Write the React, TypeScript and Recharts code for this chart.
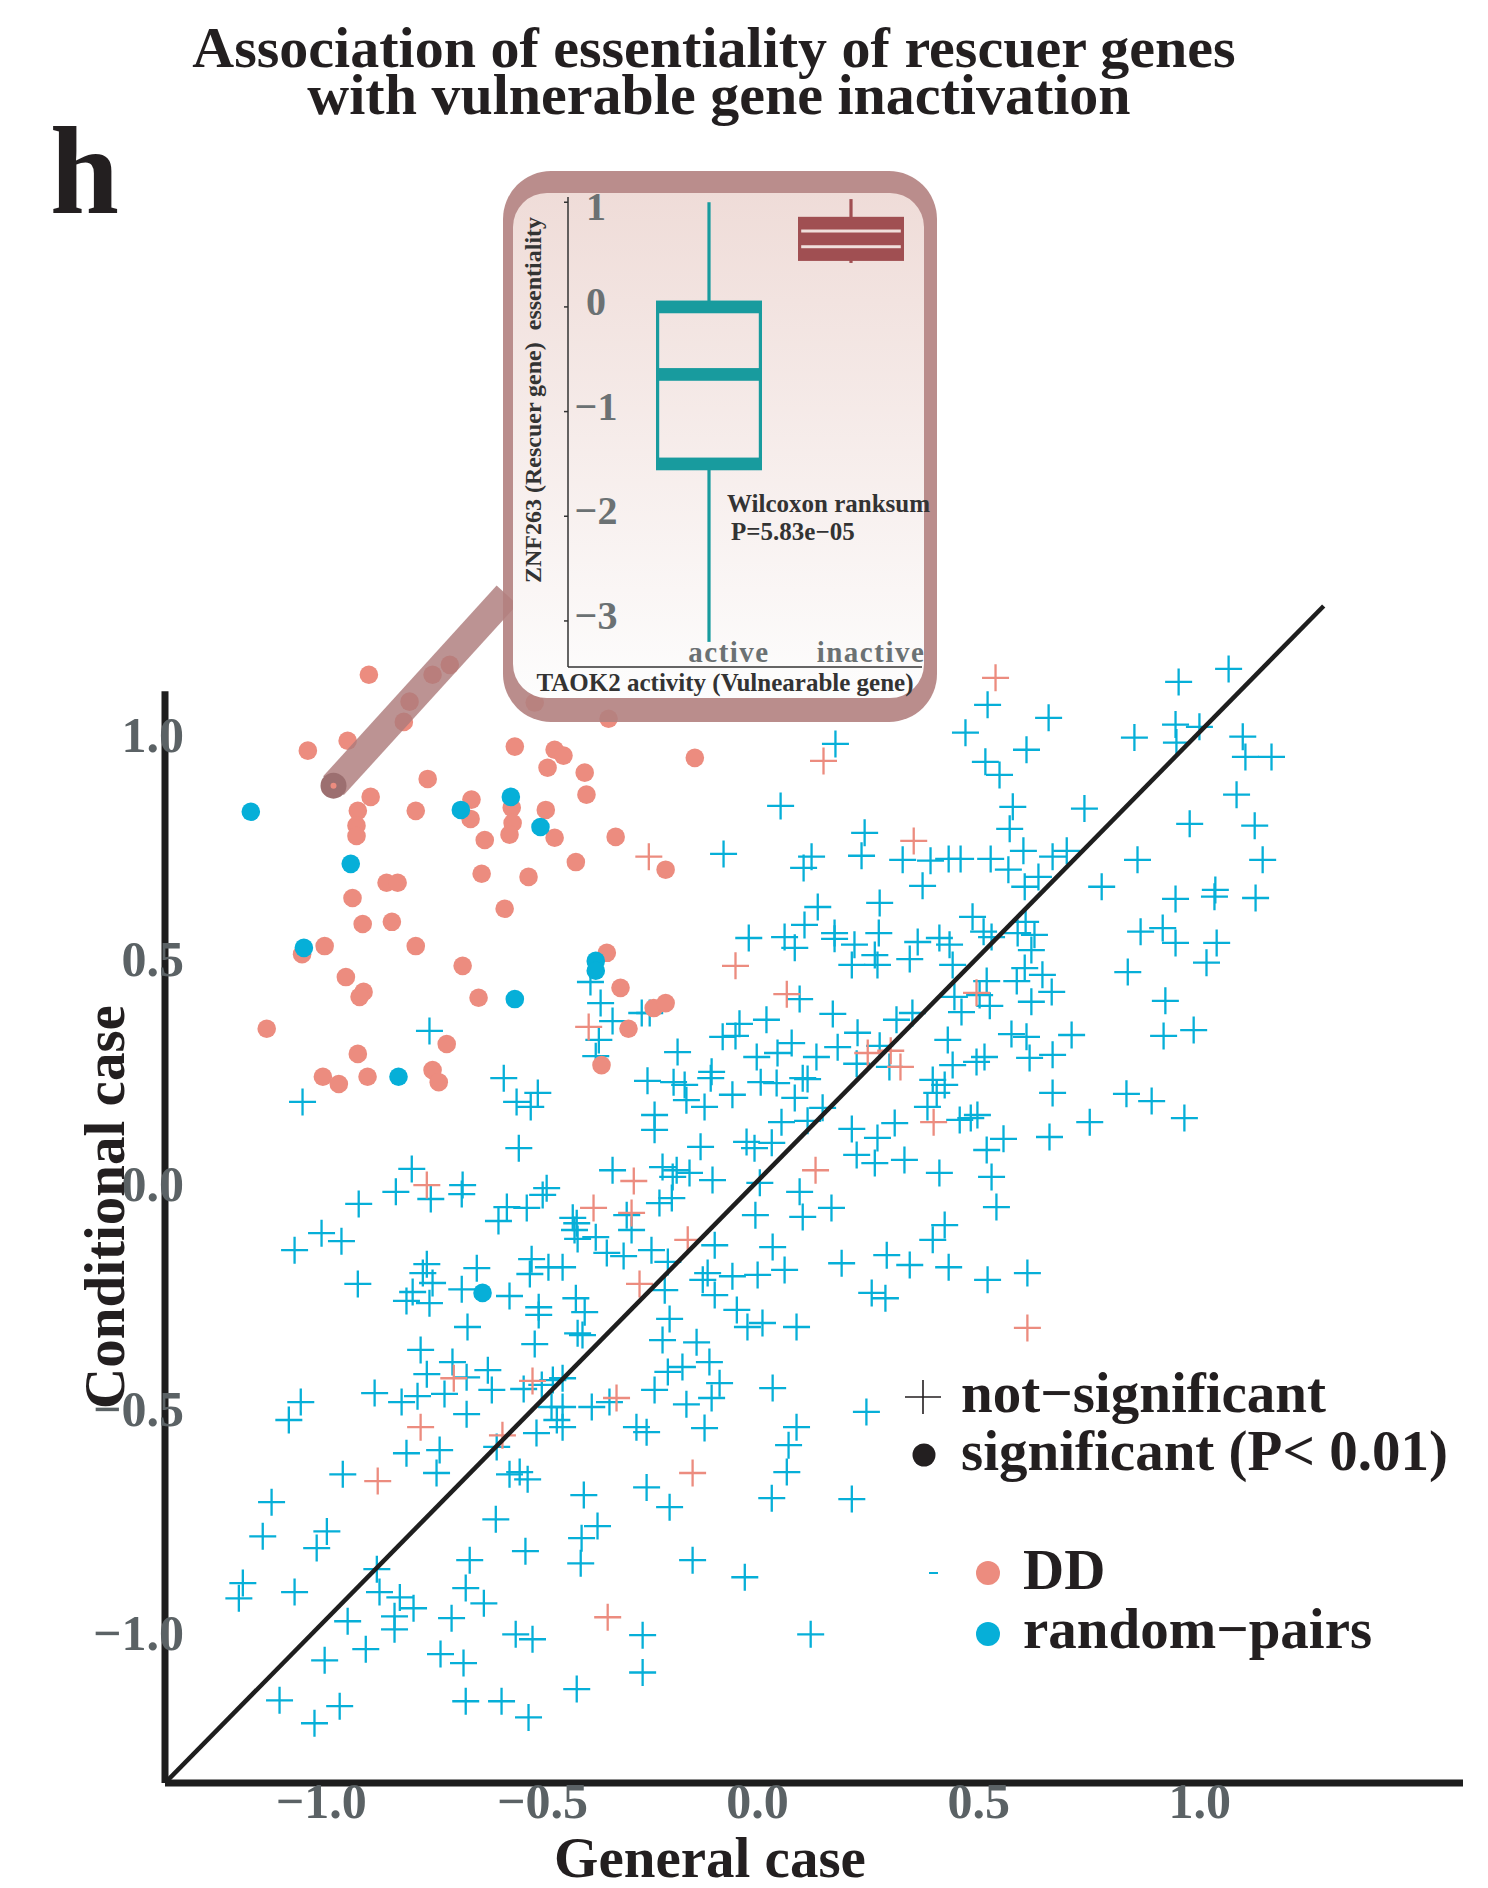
import React from "react";
import { ScatterChart, Scatter, XAxis, YAxis, ComposedChart, Bar } from "recharts";

const SERIF = '"Liberation Serif", "Times New Roman", serif';
const BLUE = "#06afd8";
const SALMON = "#ec8c7f";
const INK = "#231f20";
const TICK_GRAY = "#5b6265";

// [general case, conditional case]
const nsRandomPairs: [number, number][] = [
  [1.065, 1.14], [0.952, 1.111], [0.52, 1.06], [0.658, 1.031], [0.47, 0.998], [0.945, 1.016], [0.999, 1.011],
  [0.852, 0.987], [0.947, 0.976], [1.097, 0.989], [1.103, 0.944], [1.162, 0.944], [0.176, 0.973], [0.608, 0.96],
  [0.515, 0.933], [0.547, 0.904], [1.083, 0.86], [0.739, 0.829], [0.577, 0.833], [0.57, 0.784], [0.052, 0.835],
  [0.977, 0.795], [1.124, 0.791], [0.242, 0.775], [-0.077, 0.728], [0.122, 0.722], [0.104, 0.697], [0.235, 0.724],
  [0.328, 0.715], [0.391, 0.713], [0.432, 0.717], [0.459, 0.717], [0.527, 0.717], [0.567, 0.693], [0.601, 0.735],
  [0.667, 0.722], [0.699, 0.735], [0.635, 0.677], [0.859, 0.715], [1.142, 0.715],
  [0.373, 0.657], [0.136, 0.61], [0.276, 0.619], [0.106, 0.57], [-0.02, 0.541], [0.061, 0.543], [0.084, 0.519],
  [0.174, 0.552], [0.174, 0.539], [0.219, 0.526], [0.274, 0.552], [0.265, 0.503], [0.213, 0.481], [0.271, 0.481],
  [0.344, 0.494], [0.362, 0.532], [0.411, 0.541], [0.434, 0.526], [0.441, 0.481], [0.095, 0.405], [-0.378, 0.443],
  [-0.355, 0.396], [-0.328, 0.356], [-0.359, 0.314], [-0.366, 0.278], [-0.262, 0.374], [-0.244, 0.374], [0.17, 0.372],
  [0.02, 0.359], [-0.041, 0.35], [-0.079, 0.321], [-0.05, 0.323], [-0.181, 0.287], [0.077, 0.307], [0.045, 0.285],
  [-0.002, 0.276], [0.133, 0.276], [0.181, 0.298], [0.226, 0.33], [0.314, 0.359], [0.35, 0.374], [0.276, 0.301],
  [0.298, 0.254], [0.224, 0.261], [0.43, 0.314], [0.441, 0.258], [-0.249, 0.223], [-0.19, 0.22], [-0.165, 0.214],
  [-0.161, 0.18], [-0.104, 0.243], [-0.106, 0.229], [-0.057, 0.192], [0.007, 0.22], [0.043, 0.218], [0.084, 0.185],
  [0.102, 0.229], [0.113, 0.227], [-0.12, 0.165], [-0.233, 0.147], [-0.233, 0.114], [0.054, 0.131], [0.113, 0.134],
  [0.147, 0.163], [0.213, 0.116], [0.271, 0.096], [0.31, 0.129], [0.396, 0.225], [0.405, 0.196], [0.384, 0.165],
  [-0.025, 0.087], [-0.007, 0.073], [0.032, 0.085], [-0.129, 0.076], [0.224, 0.058], [0.265, 0.04], [0.332, 0.047],
  [-0.328, 0.024], [0.411, 0.018], [-0.215, 0.031], [-0.183, 0.024], [-0.154, 0.018], [0.457, 0.136], [0.423, 0.214],
  [0.604, 0.655], [0.778, 0.655], [0.945, 0.628], [1.035, 0.648], [1.033, 0.633], [1.126, 0.63], [0.486, 0.588],
  [0.511, 0.555], [0.529, 0.543], [0.606, 0.577], [0.588, 0.552], [0.626, 0.548], [0.619, 0.514], [0.866, 0.555],
  [0.916, 0.563], [0.945, 0.53], [1.038, 0.53], [1.015, 0.486], [0.837, 0.465], [0.604, 0.474], [0.586, 0.445],
  [0.518, 0.445], [0.644, 0.459], [0.665, 0.421], [0.619, 0.399], [0.502, 0.414], [0.525, 0.39], [0.461, 0.376],
  [0.445, 0.41], [0.922, 0.401], [0.918, 0.323], [0.986, 0.336], [0.574, 0.327], [0.608, 0.321], [0.71, 0.325],
  [0.667, 0.281], [0.615, 0.274], [0.513, 0.276], [0.495, 0.265], [0.667, 0.196], [0.834, 0.194], [0.891, 0.178],
  [0.965, 0.14], [0.751, 0.131], [0.482, 0.14], [0.497, 0.147], [0.66, 0.098], [0.556, 0.094], [0.518, 0.069],
  [0.529, 0.009],
  [-0.782, 0.027], [-0.667, -0.009], [-0.669, -0.029], [-0.739, -0.04], [-0.818, -0.024], [-0.902, -0.051],
  [-0.986, -0.116], [-0.941, -0.134], [-1.047, -0.154], [-0.477, -0.016], [-0.486, -0.031], [-0.567, -0.058],
  [-0.522, -0.06], [-0.586, -0.089], [-0.296, -0.076], [-0.285, -0.109], [-0.418, -0.082], [-0.409, -0.094],
  [-0.414, -0.109], [-0.407, -0.129], [-0.366, -0.125], [-0.341, -0.16], [-0.303, -0.167], [-0.748, -0.185],
  [-0.757, -0.205], [-0.735, -0.227], [-0.78, -0.247], [-0.794, -0.267], [-0.742, -0.272], [-0.635, -0.194],
  [-0.669, -0.241], [-0.561, -0.256], [-0.511, -0.174], [-0.515, -0.207], [-0.473, -0.192], [-0.441, -0.192],
  [-0.904, -0.229], [-0.495, -0.281], [-0.495, -0.298], [-0.411, -0.261], [-0.391, -0.292], [-0.407, -0.339],
  [-0.396, -0.343], [-0.656, -0.325], [-0.504, -0.363], [-0.762, -0.376], [-0.69, -0.403], [-0.748, -0.43],
  [-0.658, -0.437], [-0.61, -0.421], [-0.601, -0.465], [-0.866, -0.472], [-0.805, -0.492], [-0.769, -0.479],
  [-0.708, -0.474], [-0.529, -0.463], [-0.488, -0.454], [-0.463, -0.443], [-0.441, -0.439], [-0.466, -0.503],
  [-0.441, -0.503], [-0.454, -0.532], [-0.441, -0.548], [-0.658, -0.519], [-1.033, -0.492], [-1.06, -0.532],
  [-0.5, -0.561], [-0.375, -0.503], [-0.335, -0.492], [-0.274, -0.548], [-0.794, -0.606], [-0.719, -0.599],
  [-0.59, -0.592],
  [-0.192, 0.009], [-0.102, 0.002], [-0.222, -0.049], [-0.194, -0.038], [0.54, -0.058], [0.005, -0.004],
  [0.095, -0.024], [-0.005, -0.076], [0.102, -0.08], [0.167, -0.06], [-0.097, -0.143], [-0.24, -0.154],
  [-0.203, -0.18], [0.034, -0.147], [0.19, -0.183], [0.292, -0.165], [0.344, -0.187], [0.423, -0.098],
  [0.396, -0.131], [0.432, -0.192], [0.52, -0.22], [0.61, -0.205], [-0.113, -0.205], [-0.124, -0.22],
  [-0.057, -0.212], [0.0, -0.209], [0.061, -0.198], [0.258, -0.249], [0.289, -0.261], [-0.097, -0.254],
  [-0.21, -0.243], [-0.047, -0.287], [-0.199, -0.307], [-0.023, -0.325], [0.011, -0.316], [0.088, -0.325],
  [-0.215, -0.354], [-0.138, -0.359], [-0.109, -0.403], [-0.17, -0.414], [-0.203, -0.425], [-0.086, -0.45],
  [-0.233, -0.465], [-0.104, -0.483], [-0.161, -0.497], [0.034, -0.461], [0.246, -0.514], [-0.251, -0.559],
  [-0.12, -0.55], [0.088, -0.548], [0.07, -0.588],
  [-0.938, -0.653], [-0.726, -0.65], [-1.099, -0.715], [-1.119, -0.791], [-0.974, -0.78], [-0.997, -0.817],
  [-1.164, -0.895], [-1.173, -0.929], [-1.047, -0.915], [-0.861, -0.864], [-0.855, -0.915], [-0.809, -0.927],
  [-0.778, -0.951], [-0.821, -0.969], [-0.821, -0.998], [-0.927, -0.98], [-0.886, -1.042], [-0.979, -1.067],
  [-1.081, -1.156], [-0.945, -1.169], [-1.002, -1.207], [-0.561, -0.653], [-0.538, -0.648], [-0.52, -0.664],
  [-0.592, -0.753], [-0.393, -0.699], [-0.251, -0.682], [-0.199, -0.726], [-0.362, -0.768], [-0.398, -0.795],
  [-0.525, -0.824], [-0.4, -0.851], [-0.147, -0.844], [-0.651, -0.844], [-0.66, -0.906], [-0.619, -0.94],
  [-0.692, -0.973], [-0.547, -1.009], [-0.509, -1.02], [-0.26, -1.011], [-0.26, -1.094], [-0.717, -1.053],
  [-0.665, -1.073], [-0.409, -1.131], [-0.66, -1.158], [-0.579, -1.158], [-0.518, -1.194],
  [-0.742, 0.334], [-1.029, 0.176], [-0.574, 0.229], [-0.545, 0.176], [-0.497, 0.196], [-0.513, 0.165],
  [-0.54, 0.073], [-0.029, -0.882], [0.032, -0.706], [0.066, -0.648], [0.213, -0.708], [0.12, -1.009],
];

const nsDDPairs: [number, number][] = [
  [0.538, 1.12], [0.149, 0.935], [0.353, 0.757], [-0.246, 0.722], [-0.05, 0.479], [0.066, 0.416], [-0.382, 0.343],
  [0.249, 0.285], [0.301, 0.29], [0.323, 0.254], [0.398, 0.131], [0.131, 0.024], [0.495, 0.419], [-0.748, -0.009],
  [-0.28, 0.0], [-0.371, -0.06], [-0.285, -0.071], [-0.267, -0.229], [-0.687, -0.439], [-0.509, -0.445],
  [-0.762, -0.548], [-0.577, -0.566], [-0.319, -0.483], [-0.158, -0.131], [0.61, -0.327], [-0.859, -0.668],
  [-0.147, -0.65], [-0.339, -0.971],
];

const sigDDPairs: [number, number][] = [
  [-0.879, 1.127], [-0.735, 1.127], [-0.696, 1.149], [-0.787, 1.067], [-0.8, 1.022], [-0.504, 1.065], [-0.337, 1.029],
  [-0.927, 0.98], [-1.017, 0.958], [-0.959, 0.88], [-0.746, 0.895], [-0.549, 0.967], [-0.459, 0.96], [-0.439, 0.947],
  [-0.475, 0.92], [-0.391, 0.909], [-0.387, 0.86], [-0.142, 0.942], [-0.875, 0.855], [-0.904, 0.824], [-0.907, 0.791],
  [-0.907, 0.768], [-0.773, 0.824], [-0.647, 0.849], [-0.649, 0.806], [-0.556, 0.831], [-0.554, 0.797], [-0.561, 0.771],
  [-0.479, 0.826], [-0.459, 0.764], [-0.617, 0.759], [-0.321, 0.766], [-0.411, 0.71], [-0.208, 0.693], [-0.624, 0.684],
  [-0.518, 0.677], [-0.839, 0.664], [-0.814, 0.664], [-0.916, 0.63], [-0.572, 0.606], [-0.893, 0.572], [-0.827, 0.577],
  [-0.979, 0.523], [-0.773, 0.523], [-0.667, 0.479], [-0.931, 0.454], [-0.891, 0.421], [-0.9, 0.41], [-0.631, 0.408],
  [-0.341, 0.508], [-0.31, 0.43], [-0.235, 0.385], [-0.208, 0.396], [-0.292, 0.339], [-1.11, 0.339], [-0.703, 0.305],
  [-0.904, 0.283], [-0.983, 0.232], [-0.947, 0.216], [-0.882, 0.232], [-0.735, 0.247], [-0.721, 0.22], [-0.353, 0.258],
  [-1.03, 0.505],
];

const sigRandomPairs: [number, number][] = [
  [-1.146, 0.822], [-0.671, 0.826], [-0.558, 0.855], [-0.491, 0.788], [-0.92, 0.706], [-1.026, 0.519],
  [-0.366, 0.49], [-0.366, 0.468], [-0.549, 0.405], [-0.812, 0.232], [-0.622, -0.249],
];

// the DD pair shown in the inset (TAOK2 / ZNF263)
const highlightedPair: [number, number][] = [[-0.959, 0.88]];

const xTicks = [-1, -0.5, 0, 0.5, 1];
const yTicks = [-1, -0.5, 0, 0.5, 1];
const AXIS_MIN = -1.34;
const Y_MAX = 1.3;
const diagonalEnd = 1.28;
const yAxisTop = 1.09;
const xAxisRight = 1.595;

// inset box plot: ZNF263 essentiality by TAOK2 activity
const groups = ["active", "inactive"];
const boxMin = [-3.2, 0.42];
const boxQ1 = [-1.5, 0.5];
const boxMedian = [-0.645, 0.65];
const boxQ3 = [0.0, 0.8];
const boxMax = [1.0, 1.03];
const insetTicks = [-3, -2, -1, 0, 1];
const groupColors: Record<string, string> = { active: "#189b9e", inactive: "#a04f52" };

const toPoints = (pairs: [number, number][]) => pairs.map(([x, y]) => ({ x, y }));
const fmt = (v: number) => v.toFixed(1).replace("-", "\u2212");

const crossShape = (color: string) => (props: any) => {
  const { cx, cy } = props;
  const h = 13.5;
  return (
    <path
      d={`M${cx - h},${cy}H${cx + h}M${cx},${cy - h}V${cy + h}`}
      stroke={color}
      strokeWidth={2.3}
      fill="none"
    />
  );
};

const dotShape = (color: string) => (props: any) => (
  <circle cx={props.cx} cy={props.cy} r={9.3} fill={color} />
);

const noShape = () => <g />;

// callout band from the highlighted pair to the inset frame
const CALLOUT_END = { x: 507, y: 595 };
const calloutShape = (props: any) => {
  const { cx, cy } = props;
  const dx = CALLOUT_END.x - cx;
  const dy = CALLOUT_END.y - cy;
  const len = Math.hypot(dx, dy) || 1;
  const w = 14;
  const nx = (-dy / len) * w;
  const ny = (dx / len) * w;
  const pts = [
    [cx + nx, cy + ny],
    [CALLOUT_END.x + nx, CALLOUT_END.y + ny],
    [CALLOUT_END.x - nx, CALLOUT_END.y - ny],
    [cx - nx, cy - ny],
  ]
    .map((p) => p.join(","))
    .join(" ");
  return (
    <g>
      <polygon points={pts} fill="#ad7b7b" fillOpacity={0.82} />
      <circle cx={cx} cy={cy} r={13} fill="#9c6f70" />
      <circle cx={cx} cy={cy} r={3} fill={SALMON} />
    </g>
  );
};

const XTick = (props: any) => {
  const { x, y, payload } = props;
  const shift = payload.value < 0 ? 6 : 0;
  return (
    <text
      x={x + shift}
      y={y + 35}
      textAnchor="middle"
      fontFamily={SERIF}
      fontWeight="bold"
      fontSize={50}
      fill={TICK_GRAY}
    >
      {fmt(payload.value)}
    </text>
  );
};

const YTick = (props: any) => {
  const { x, y, payload } = props;
  return (
    <text x={x + 19} y={y + 20} textAnchor="end" fontFamily={SERIF} fontWeight="bold" fontSize={50} fill={TICK_GRAY}>
      {fmt(payload.value)}
    </text>
  );
};

const insetData = groups.map((group, i) => ({
  group,
  range: [boxMin[i], boxMax[i]],
  min: boxMin[i],
  q1: boxQ1[i],
  median: boxMedian[i],
  q3: boxQ3[i],
  max: boxMax[i],
}));

const BoxShape = (props: any) => {
  const { x, y, width, height, payload } = props;
  const top = Math.min(y, y + height);
  const h = Math.abs(height);
  const { min, q1, median, q3, max, group } = payload;
  const color = groupColors[group];
  const py = (v: number) => top + ((max - v) / (max - min)) * h;
  const cx = x + width / 2;
  const band = 12.7;
  return (
    <g>
      <line x1={cx} x2={cx} y1={py(max)} y2={py(q3)} stroke={color} strokeWidth={3.2} />
      <line x1={cx} x2={cx} y1={py(q1)} y2={py(min)} stroke={color} strokeWidth={3.2} />
      <rect
        x={x + 1.6}
        y={py(q3)}
        width={width - 3.2}
        height={py(q1) - py(q3)}
        fill="none"
        stroke={color}
        strokeWidth={3.2}
      />
      {[q3, median, q1].map((v, k) => (
        <rect key={k} x={x} y={py(v) - band / 2} width={width} height={band} fill={color} />
      ))}
    </g>
  );
};

const InsetYTick = (props: any) => {
  const { y, payload } = props;
  // the top label sits a little lower so it stays inside the frame
  const dy = payload.value === 1 ? 18 : 8;
  return (
    <text x={93} y={y + dy} textAnchor="middle" fontFamily={SERIF} fontWeight="bold" fontSize={40} fill="#6b7173">
      {String(payload.value).replace("-", "\u2212")}
    </text>
  );
};

const InsetXTick = (props: any) => {
  const { x, y, payload } = props;
  return (
    <text
      x={x + 20}
      y={y - 5}
      textAnchor="middle"
      fontFamily={SERIF}
      fontWeight="bold"
      fontSize={29}
      letterSpacing={1.5}
      fill="#6b7173"
    >
      {payload.value}
    </text>
  );
};

function Inset() {
  return (
    <div style={{ position: "absolute", left: 503, top: 171, width: 434, height: 551 }}>
      <svg width={434} height={551} style={{ position: "absolute", left: 0, top: 0 }}>
        <defs>
          <linearGradient id="insetBg" x1="0" y1="0" x2="0" y2="1">
            <stop offset="0" stopColor="#efdcd8" />
            <stop offset="1" stopColor="#fdfdfd" />
          </linearGradient>
        </defs>
        <rect x={0} y={0} width={434} height={551} rx={48} fill="#b3817f" fillOpacity={0.9} />
        <rect x={10} y={22} width={411} height={505} rx={34} fill="url(#insetBg)" />
      </svg>
      <div style={{ position: "absolute", left: 0, top: 0 }}>
        <ComposedChart width={434} height={551} data={insetData} margin={{ top: 26, right: 15, bottom: 0, left: 0 }}>
          <XAxis
            dataKey="group"
            height={55}
            padding={{ left: 70, right: 0 }}
            tickLine={false}
            tickSize={0}
            tickMargin={0}
            axisLine={{ stroke: "#333", strokeWidth: 1.5 }}
            tick={<InsetXTick />}
            interval={0}
          />
          <YAxis
            type="number"
            domain={[-3.44, 1.05]}
            ticks={insetTicks}
            width={65}
            tickSize={4}
            axisLine={{ stroke: "#333", strokeWidth: 1.5 }}
            tickLine={{ stroke: "#333", strokeWidth: 1.5 }}
            tick={<InsetYTick />}
            interval={0}
          />
          <Bar dataKey="range" barSize={106} shape={BoxShape} isAnimationActive={false} />
        </ComposedChart>
      </div>
      <svg width={434} height={551} style={{ position: "absolute", left: 0, top: 0, pointerEvents: "none" }}>
        <text
          transform="translate(38,229) rotate(-90)"
          textAnchor="middle"
          fontFamily={SERIF}
          fontWeight="bold"
          fontSize={24}
          fill="#333"
          style={{ whiteSpace: "pre" }}
        >
          {"ZNF263 (Rescuer gene)  essentiality"}
        </text>
        <text x={222} y={520} textAnchor="middle" fontFamily={SERIF} fontWeight="bold" fontSize={25} fill="#333">
          TAOK2 activity (Vulnearable gene)
        </text>
        <text x={224} y={341} fontFamily={SERIF} fontWeight="bold" fontSize={25} fill="#333">
          Wilcoxon ranksum
        </text>
        <text x={228} y={369} fontFamily={SERIF} fontWeight="bold" fontSize={25} fill="#333">
          P=5.83e{"\u2212"}05
        </text>
      </svg>
    </div>
  );
}

function Overlay() {
  const textStyle = { fontFamily: SERIF, fontWeight: "bold" as const, fill: INK };
  return (
    <svg width={1488} height={1888} style={{ position: "absolute", left: 0, top: 0, pointerEvents: "none" }}>
      <text x={714} y={67} textAnchor="middle" fontSize={58} {...textStyle}>
        Association of essentiality of rescuer genes
      </text>
      <text x={719} y={114} textAnchor="middle" fontSize={58} {...textStyle}>
        with vulnerable gene inactivation
      </text>
      <text x={50} y={213} fontSize={124} {...textStyle}>
        h
      </text>
      <text transform="translate(124,1207) rotate(-90)" textAnchor="middle" fontSize={57} {...textStyle}>
        Conditional case
      </text>
      <text x={710} y={1877} textAnchor="middle" fontSize={57} {...textStyle}>
        General case
      </text>

      {/* legend */}
      <path d="M905,1397H941M923,1380V1414" stroke={INK} strokeWidth={1.6} fill="none" />
      <text x={961} y={1412} fontSize={57} {...textStyle}>
        not{"\u2212"}significant
      </text>
      <circle cx={924} cy={1455} r={11.5} fill={INK} />
      <text x={961} y={1470} fontSize={57} {...textStyle} style={{ whiteSpace: "pre" }}>
        {"significant (P< 0.01)"}
      </text>
      <line x1={929} x2={938} y1={1573} y2={1573} stroke={BLUE} strokeWidth={2} />
      <circle cx={988} cy={1573} r={12} fill={SALMON} />
      <text x={1023} y={1589} fontSize={57} {...textStyle}>
        DD
      </text>
      <circle cx={988} cy={1634} r={12} fill={BLUE} />
      <text x={1023} y={1648} fontSize={57} {...textStyle}>
        random{"\u2212"}pairs
      </text>
    </svg>
  );
}

export default function App() {
  const diagonal = [
    { x: AXIS_MIN, y: AXIS_MIN },
    { x: diagonalEnd, y: diagonalEnd },
  ];
  const yAxisLine = [
    { x: AXIS_MIN, y: AXIS_MIN },
    { x: AXIS_MIN, y: yAxisTop },
  ];
  const xAxisLine = [
    { x: AXIS_MIN, y: AXIS_MIN },
    { x: xAxisRight, y: AXIS_MIN },
  ];
  return (
    <div style={{ position: "absolute", left: 0, top: 0, width: 1488, height: 1888, background: "#fff" }}>
      <ScatterChart width={1488} height={1888} margin={{ top: 597, right: 25, bottom: 0, left: 0 }}>
        <XAxis
          type="number"
          dataKey="x"
          domain={[AXIS_MIN, xAxisRight]}
          ticks={xTicks}
          interval={0}
          height={105}
          axisLine={false}
          tickLine={false}
          tickSize={0}
          tickMargin={0}
          tick={<XTick />}
        />
        <YAxis
          type="number"
          dataKey="y"
          domain={[AXIS_MIN, Y_MAX]}
          ticks={yTicks}
          interval={0}
          width={165}
          axisLine={false}
          tickLine={false}
          tickSize={0}
          tickMargin={0}
          tick={<YTick />}
        />
        <Scatter data={toPoints(nsRandomPairs)} shape={crossShape(BLUE)} isAnimationActive={false} />
        <Scatter data={toPoints(nsDDPairs)} shape={crossShape(SALMON)} isAnimationActive={false} />
        <Scatter data={toPoints(sigDDPairs)} shape={dotShape(SALMON)} isAnimationActive={false} />
        <Scatter data={toPoints(sigRandomPairs)} shape={dotShape(BLUE)} isAnimationActive={false} />
        <Scatter
          data={diagonal}
          line={{ stroke: "#1e1e1e", strokeWidth: 4.5 }}
          shape={noShape}
          isAnimationActive={false}
        />
        <Scatter
          data={yAxisLine}
          line={{ stroke: "#1e1e1e", strokeWidth: 7 }}
          shape={noShape}
          isAnimationActive={false}
        />
        <Scatter
          data={xAxisLine}
          line={{ stroke: "#1e1e1e", strokeWidth: 7 }}
          shape={noShape}
          isAnimationActive={false}
        />
        <Scatter data={toPoints(highlightedPair)} shape={calloutShape} isAnimationActive={false} />
      </ScatterChart>
      <Inset />
      <Overlay />
    </div>
  );
}
